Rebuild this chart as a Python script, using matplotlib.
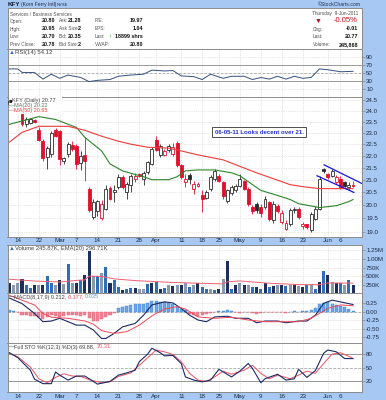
import matplotlib
matplotlib.use("Agg")
import matplotlib.pyplot as plt
import numpy as np
import pandas as pd
from matplotlib.ticker import NullLocator
from matplotlib.patches import Rectangle

plt.rcParams['font.family'] = ['Liberation Sans', 'DejaVu Sans']

# ---- data ---------------------------------------------------------------
days = pd.bdate_range('2011-02-10', '2011-06-09')
days = days.drop(pd.to_datetime(['2011-02-21', '2011-04-22', '2011-05-30']))

tick_days = ['2011-02-14', '2011-02-22', '2011-03-01', '2011-03-07', '2011-03-14',
             '2011-03-21', '2011-03-28', '2011-04-01', '2011-04-11', '2011-04-18',
             '2011-04-25', '2011-05-02', '2011-05-09', '2011-05-16', '2011-05-23',
             '2011-06-01', '2011-06-06']
tick_text = ['14', '22', 'Mar', '7', '14', '21', '28', 'Apr', '11', '18', '25',
             'May', '9', '16', '23', 'Jun', '6']

opens = [24.30, 24.45, 24.40, 23.87, 23.38, 23.45, 23.58, 23.13, 22.64, 21.96,
         22.08, 23.13, 23.06, 21.77, 22.08, 22.46, 22.42, 21.70, 22.04, 20.65,
         19.56, 19.79, 19.52, 19.87, 20.68, 20.50, 20.72, 21.12, 20.53, 20.80,
         21.02, 21.25, 21.05, 21.32, 21.66, 22.67, 22.04, 22.05, 22.25, 22.08,
         22.57, 21.62, 20.92, 21.20, 20.65, 20.76, 20.38, 20.30, 20.65, 21.05,
         21.17, 20.93, 20.18, 20.46, 20.58, 20.77, 20.97, 20.65, 19.94, 20.06,
         19.94, 19.94, 20.14, 19.42, 19.98, 19.38, 19.12, 19.27, 19.80, 19.87,
         19.23, 19.27, 19.05, 19.49, 19.87, 21.45, 21.25, 21.17, 20.90, 21.05,
         20.93, 20.70, 20.80]
highs = [24.55, 24.60, 24.50, 23.96, 23.73, 23.65, 23.62, 23.24, 22.71, 22.44,
         23.10, 23.20, 23.12, 21.96, 22.58, 22.63, 22.50, 22.21, 22.80, 20.70,
         20.26, 20.22, 20.22, 20.81, 20.75, 20.81, 21.25, 21.20, 20.93, 21.25,
         21.30, 21.29, 21.37, 21.80, 22.40, 22.85, 22.50, 22.30, 22.50, 22.54,
         22.63, 21.66, 21.25, 21.28, 20.95, 20.90, 20.58, 20.60, 21.20, 21.45,
         21.25, 20.97, 20.65, 20.80, 20.85, 21.25, 21.00, 20.70, 20.00, 20.14,
         20.05, 20.35, 20.18, 20.18, 20.05, 19.80, 19.42, 19.90, 19.95, 19.94,
         19.38, 19.30, 19.75, 19.98, 21.15, 21.50, 21.30, 21.45, 21.20, 21.15,
         20.97, 20.93, 20.95]
lows = [24.20, 24.30, 24.05, 23.29, 23.24, 23.40, 23.45, 22.63, 21.79, 21.45,
        21.96, 22.80, 21.62, 21.66, 21.96, 22.21, 21.45, 21.40, 20.95, 19.75,
        19.49, 19.60, 19.42, 19.80, 20.20, 20.14, 20.62, 20.65, 20.26, 20.50,
        20.90, 21.10, 20.81, 21.25, 21.60, 22.20, 21.96, 21.98, 22.15, 22.00,
        21.55, 21.05, 20.70, 20.85, 20.45, 20.70, 19.75, 20.25, 20.55, 20.95,
        20.90, 20.26, 20.10, 20.40, 20.50, 20.70, 20.58, 19.98, 19.68, 19.70,
        19.56, 19.85, 19.40, 19.34, 19.70, 19.30, 19.05, 19.20, 19.72, 19.49,
        19.12, 19.10, 18.98, 19.42, 19.80, 21.30, 21.05, 21.10, 20.85, 20.65,
        20.70, 20.60, 20.70]
closes = [24.45, 24.40, 24.10, 23.38, 23.60, 23.62, 23.50, 22.68, 21.90, 22.33,
          23.00, 22.87, 21.87, 21.90, 22.50, 22.29, 21.66, 22.00, 21.77, 19.83,
          20.14, 20.18, 20.05, 20.65, 20.26, 20.58, 21.12, 20.70, 20.85, 21.18,
          21.17, 21.15, 21.30, 21.73, 22.29, 22.27, 22.42, 22.21, 22.44, 22.36,
          21.62, 21.13, 21.02, 21.05, 20.85, 20.83, 20.26, 20.52, 21.12, 21.37,
          20.97, 20.34, 20.58, 20.73, 20.77, 21.05, 20.65, 20.06, 19.76, 19.80,
          19.72, 20.26, 19.49, 20.06, 19.76, 19.72, 19.34, 19.80, 19.87, 19.56,
          19.30, 19.19, 19.68, 19.87, 21.05, 21.37, 21.13, 21.37, 21.10, 20.73,
          20.77, 20.78, 20.77]

ma20_idx = [0, 7, 11, 16, 18, 22, 24, 27, 32, 34, 38, 40, 42, 45, 49, 53, 55, 57,
            60, 64, 67, 69, 74, 78, 81, 82]
ma20_val = [23.38, 23.73, 23.60, 23.24, 22.80, 22.21, 21.66, 21.37, 21.13, 21.01,
            21.01, 21.13, 21.37, 21.41, 21.41, 21.29, 21.17, 20.93, 20.58, 20.38,
            20.22, 20.06, 19.91, 19.98, 20.14, 20.22]
ma50_idx = [0, 3, 7, 14, 18, 22, 26, 29, 33, 38, 41, 45, 51, 59, 67, 70, 74, 78, 82]
ma50_val = [22.59, 23.02, 23.29, 23.29, 23.11, 22.85, 22.63, 22.50, 22.37, 22.33,
            22.21, 22.04, 21.83, 21.29, 20.81, 20.73, 20.65, 20.65, 20.65]

chan_up_x = [75.1, 84.2]
chan_up_y = [21.62, 20.85]
chan_lo_x = [73.4, 82.2]
chan_lo_y = [21.17, 20.50]

volume_k = [310, 250, 310, 408, 229, 150, 229, 229, 229, 497,
            310, 250, 399, 280, 845, 310, 310, 378, 527, 1240,
            497, 497, 577, 774, 300, 378, 180, 100, 130,
            160, 160, 130, 130, 260, 290, 330, 130, 160, 230,
            200, 230, 230, 290, 180, 230, 310, 180, 130, 130,
            100, 130, 430, 945, 130, 230, 310, 230, 230, 180,
            180, 130, 290, 180, 200, 230, 230, 200, 230, 230,
            200, 180, 230, 260, 130, 330, 645, 527, 330, 300,
            290, 230, 400, 246]
volume_shade = list('nggnbbngnbbgngbgnbnngbgbnbbnb'
                    'bnggbnbnbgngngbgnbbgbngnbngngbnbnbngnbgngnbgbnbngnbgbn')
vma_idx = [0, 6, 12, 17, 18, 19, 22, 25, 30, 38, 46, 51, 52, 55, 61, 69, 74, 76, 82]
vma_k = [410, 357, 330, 385, 390, 500, 490, 420, 370, 320, 290, 275, 335, 360,
         300, 252, 250, 300, 297]

rsi_idx = [0, 2, 3, 6, 8, 10, 12, 14, 17, 19, 21, 24, 26, 29, 32, 34, 37, 39, 41,
           44, 46, 48, 51, 53, 56, 58, 60, 62, 64, 66, 68, 70, 72, 74, 76, 79, 82]
rsi_val = [60, 60, 51.5, 51, 35, 47, 37, 45, 39, 29, 32, 34, 42, 45, 47, 57, 55, 56,
           43, 41, 34, 47, 37, 42, 42, 34, 39, 35, 42, 35, 42, 37, 39, 60, 58, 53, 54.12]

macd_idx = [0, 3, 6, 8, 10, 12, 14, 16, 18, 20, 22, 23, 25, 27, 30, 32, 34, 37, 39,
            41, 43, 45, 47, 49, 52, 54, 57, 59, 61, 64, 66, 69, 71, 73, 75, 77, 79, 82]
macd_val = [0.40, 0.24, -0.05, -0.29, -0.27, -0.19, -0.29, -0.39, -0.39, -0.53,
            -0.78, -0.78, -0.63, -0.44, -0.34, -0.10, 0.20, 0.29, 0.26, 0.10, -0.10,
            -0.24, -0.29, -0.15, -0.13, -0.19, -0.19, -0.32, -0.27, -0.27, -0.32,
            -0.27, -0.27, -0.10, 0.245, 0.34, 0.29, 0.212]
sig_idx = [0, 3, 6, 8, 10, 14, 18, 20, 22, 25, 28, 31, 34, 37, 40, 42, 45, 49, 53,
           57, 61, 65, 69, 72, 76, 79, 82]
sig_val = [0.48, 0.34, 0.20, -0.05, -0.16, -0.19, -0.27, -0.36, -0.55, -0.63,
           -0.58, -0.39, -0.12, 0.08, 0.15, 0.08, -0.15, -0.19, -0.16, -0.24,
           -0.29, -0.29, -0.29, -0.19, 0.10, 0.20, 0.177]
hist_val = [0.05, 0.01, -0.02, -0.10, -0.10, -0.13, -0.12, -0.16, -0.22, -0.16,
            -0.10, -0.12, -0.16, -0.12, -0.10, -0.10, -0.10, -0.13, -0.10, -0.19,
            -0.26, -0.26, -0.22, -0.16, -0.10, -0.03, 0.10, 0.13, 0.16, 0.19,
            0.22, 0.22, 0.22, 0.26, 0.32, 0.32, 0.29, 0.29, 0.26, 0.22,
            0.15, 0.07, 0.05, -0.06, -0.10, -0.13, -0.10, -0.06, -0.04, -0.02,
            0.02, 0.02, 0.04, 0.02, -0.02, -0.04, -0.02, -0.02, -0.04, -0.06,
            -0.04, -0.02, -0.01, -0.02, -0.01, -0.02, -0.04, -0.01, 0.01, -0.01,
            0.01, 0.02, 0.04, 0.10, 0.22, 0.26, 0.29, 0.22, 0.19, 0.16,
            0.13, 0.07, 0.035]

stok_idx = [0, 2, 5, 6, 8, 10, 11, 12, 14, 16, 18, 21, 24, 26, 28, 30, 31, 33, 34,
            36, 37, 39, 41, 42, 44, 46, 48, 50, 53, 55, 57, 58, 60, 61, 64, 66, 68,
            69, 71, 73, 75, 76, 78, 80, 82]
stok_val = [83, 72, 44, 24, 14, 14, 40, 33, 22, 31, 31, 13, 19, 33, 38, 44, 63, 80,
            93, 83, 76, 77, 59, 29, 22, 18, 22, 46, 29, 42, 59, 48, 16, 25, 35, 22,
            25, 46, 28, 43, 82, 89, 85, 70, 69.88]
stod_idx = [0, 2, 5, 7, 9, 11, 13, 15, 17, 19, 22, 24, 26, 29, 31, 33, 35, 37, 39,
            41, 43, 45, 47, 49, 51, 53, 56, 58, 60, 62, 64, 67, 69, 71, 73, 75, 77,
            79, 81, 82]
stod_val = [81, 74, 51, 25, 16, 28, 36, 31, 30, 23, 16, 18, 30, 38, 55, 72, 89, 85,
            79, 63, 37, 22, 19, 29, 42, 35, 44, 55, 37, 25, 33, 25, 33, 42, 37, 59,
            80, 83, 75, 70.31]

hdr_labels = [['Open:', 'High:', 'Low:', 'Prev Close:'],
              ['Ask:', 'Ask Size:', 'Bid:', 'Bid Size:'],
              ['P/E:', 'EPS:', 'Last:', 'VWAP:'],
              ['', 'Chg:', 'Last:', 'Volume:']]
hdr_values = [['20.80', '20.95', '20.70', '20.78'],
              ['21.28', '2', '20.35', '2'],
              ['19.97', '1.04', '18899 shrs', '20.80'],
              ['-0.05%', '-0.01', '20.77', '245,868']]

# ---- layout -------------------------------------------------------------
W, H = 386, 400
X0, X1 = 7.5, 361.7
XL = (-0.46, 84.07)
BG = '#a6c8f2'
TXT = '#1c2c48'
GRID = '#cfcfcf'
RED = '#e0102c'
NAVY = '#1b2a66'
LBL = '#505050'

tick_pos = [days.get_loc(pd.Timestamp(d)) for d in tick_days]
x = np.arange(len(days))

fig = plt.figure(figsize=(W / 100, H / 100), dpi=100)
fig.patch.set_facecolor(BG)


def panel(y0, y1):
    ax = fig.add_axes([X0 / W, 1 - y1 / H, (X1 - X0) / W, (y1 - y0) / H])
    ax.set_facecolor('white')
    for s in ax.spines.values():
        s.set_color('#8c8c8c')
        s.set_linewidth(0.7)
    return ax


def dress(ax, ticks, labels, ylim, dates=False, pad=1.0):
    ax.set_xlim(*XL)
    ax.set_ylim(*ylim)
    ax.set_yticks(ticks, labels)
    ax.yaxis.set_minor_locator(NullLocator())
    ax.yaxis.tick_right()
    ax.tick_params(axis='y', labelsize=4.4, length=2, width=0.5, pad=1.2,
                   color='#888888', labelcolor=TXT)
    ax.set_xticks(tick_pos, tick_text if dates else [])
    ax.tick_params(axis='x', length=0, labelsize=4.5, pad=pad, labelcolor=TXT)
    ax.grid(True, color=GRID, lw=0.5, ls=(0, (1, 1.5)))
    ax.set_axisbelow(True)


def ftext(px, py, s, **kw):
    kw.setdefault('va', 'center')
    kw.setdefault('fontsize', 3.4)
    return fig.text(px / W, 1 - py / H, s, **kw)


def legend(ax, px, py, parts, size=4.0):
    bb = ax.get_position()
    yf = (1 - py / H - bb.y0) / bb.height
    t = ax.text((px - X0) / (X1 - X0), yf, parts[0][0], transform=ax.transAxes,
                fontsize=size, color=parts[0][1], va='center', ha='left', zorder=6)
    prev = t
    for s, col in parts[1:]:
        prev = ax.annotate(s, xy=(1, 0), xycoords=prev, va='bottom', ha='left',
                           fontsize=size, color=col, annotation_clip=False, zorder=6)
    return t


# ---- title + header box -------------------------------------------------
ftext(8, 4.5, 'KFY', fontsize=4.6, fontweight='bold', color='#101830')
ftext(21, 4.5, '(Korn Ferry Intl)', fontsize=3.6, color='#202840')
ftext(57, 4.5, 'NYSE', fontsize=3.0, color='#202840')
ftext(361, 4.5, '\u00a9StockCharts.com', ha='right', fontsize=3.7, color='#203050')

hdr = panel(8.3, 48.5)
hdr.set_xticks([])
hdr.set_yticks([])

ftext(10, 14, 'Services / Business Services', color=LBL)
ftext(358, 14, 'Thursday  9-Jun-2011', ha='right', color=LBL)
rows_y = [21, 29, 37, 44.5]
lbl_x = [10, 59, 95, 313]
val_x = [55, 81, 143, 358]
for c in range(4):
    for r in range(4):
        if hdr_labels[c][r]:
            ftext(lbl_x[c], rows_y[r], hdr_labels[c][r], color=LBL)
        if c == 3 and r == 0:
            ftext(val_x[c], rows_y[r], hdr_values[c][r], ha='right', fontsize=5.5,
                  color='#c0101c')
        else:
            ftext(val_x[c], rows_y[r], hdr_values[c][r], ha='right',
                  fontweight='bold', fontsize=3.9, color='#101010')
ftext(318, 21, '\u25bc', ha='center', fontsize=5, color='#b01020')
ftext(110, 37, '\u2191', ha='center', fontsize=4.5, fontweight='bold',
      color='#20a020')

# ---- RSI ---------------------------------------------------------------
rsi = panel(49.3, 96.7)
dress(rsi, [10, 30, 50, 70, 90], ['10', '30', '50', '70', '90'], (-8, 108))
rsi.axhline(70, color='#999999', lw=0.7)
rsi.axhline(30, color='#999999', lw=0.7)
rsi.axhline(50, color='#aaaaaa', lw=0.6, ls=(0, (3, 2)))
rsi.plot(rsi_idx, rsi_val, color='#34507e', lw=0.7)
legend(rsi, 9, 52.5, [('\u25b2', '#3a6ad0'), ('RSI(14) 54.12', '#404040')], 4.3)

# ---- price -------------------------------------------------------------
pr = panel(96.7, 237)
pr.set_yscale('log')
pticks = [19.0, 19.5, 20.0, 20.5, 21.0, 21.5, 22.0, 22.5, 23.0, 23.5, 24.0, 24.5]
dress(pr, pticks, ['%.1f' % v for v in pticks], (18.81, 24.66), dates=True, pad=0.6)

o = np.array(opens)
c = np.array(closes)
prev_c = np.concatenate([[o[0]], c[:-1]])
edge = np.where(c < prev_c, RED, '#2a2a2a')
face = np.where(c >= o, 'white', edge)
body_lo = np.minimum(o, c)
body_h = np.maximum(np.abs(c - o), 0.02)
pr.vlines(x, lows, highs, colors=edge, lw=0.6, zorder=2)
pr.bar(x, body_h, bottom=body_lo, width=0.7, color=face, edgecolor=edge,
       linewidth=0.6, zorder=3)
pr.plot(ma20_idx, ma20_val, color='#2c862c', lw=0.8, zorder=4)
pr.plot(ma50_idx, ma50_val, color='#f03a3a', lw=0.8, zorder=4)
pr.plot(chan_up_x, chan_up_y, color='#1515e0', lw=0.9, zorder=5)
pr.plot(chan_lo_x, chan_lo_y, color='#1515e0', lw=0.9, zorder=5)

pr.add_patch(Rectangle((0.003, 0.88), 0.15, 0.117, transform=pr.transAxes,
                       facecolor='white', edgecolor='none', zorder=5))
legend(pr, 9, 100.5, [('\u25a0', '#202020'), ('KFY (Daily) 20.77', '#404040')])
legend(pr, 9, 105.5, [('\u2014', '#2c862c'), ('MA(20) 20.22', '#607060')])
legend(pr, 9, 110.5, [('\u2014', '#f03a3a'), ('MA(50) 20.65', '#f03a3a')])

pr.text(0.585, 0.748, '06-05-11 Looks decent over 21.', transform=pr.transAxes,
        fontsize=4.3, fontweight='bold', color='#2030d0', va='center', ha='left',
        zorder=6, bbox=dict(boxstyle='square,pad=0.45', fc='white', ec='#333333',
                            lw=0.6))

# ---- volume ------------------------------------------------------------
vo = panel(244.5, 293.3)
dress(vo, [250e3, 500e3, 750e3, 1e6, 1.25e6],
      ['250K', '500K', '750K', '1.00M', '1.25M'], (0, 1.42e6))
shade = {'n': '#1e2f5e', 'b': '#2f6fb8', 'g': '#8a98b0'}
vo.bar(x, np.array(volume_k) * 1e3, width=0.72,
       color=[shade[s] for s in volume_shade], linewidth=0, zorder=2)
vo.plot(vma_idx, np.array(vma_k) * 1e3, color='#f06070', lw=0.7, zorder=3)
legend(vo, 9, 248.5, [('\u25b2', '#3a6ad0'),
                      ('Volume 245.87K, EMA(20) 296.71K', '#404040')], 4.2)

# ---- MACD --------------------------------------------------------------
md = panel(293.3, 343.3)
dress(md, [-0.75, -0.5, -0.25, 0.0, 0.25],
      ['-0.75', '-0.50', '-0.25', '0.00', '0.25'], (-0.92, 0.54))
md.axhline(0, color='#aaaaaa', lw=0.6, ls=(0, (3, 2)))
hv = np.array(hist_val)
md.bar(x, hv, width=0.72, color=np.where(hv >= 0, '#6aa6ea', '#f08494'),
       edgecolor=np.where(hv >= 0, '#3f7fcc', '#e05a70'), linewidth=0.3, zorder=2)
md.plot(macd_idx, macd_val, color=NAVY, lw=0.8, zorder=3)
md.plot(sig_idx, sig_val, color='#f04858', lw=0.7, zorder=3)
legend(md, 9, 297, [('\u2014', NAVY), ('MACD(8,17,9) 0.212, ', '#404040'),
                    ('0.177, ', '#f04858'), ('0.035', '#5a9ae0')])

# ---- full stochastics ----------------------------------------------------
st = panel(343.3, 392)
dress(st, [20, 50, 80], ['20', '50', '80'], (-4.6, 104), dates=True, pad=1.2)
st.axhline(80, color='#999999', lw=0.7)
st.axhline(20, color='#999999', lw=0.7)
st.axhline(50, color='#aaaaaa', lw=0.6, ls=(0, (3, 2)))
st.plot(stod_idx, stod_val, color='#f05060', lw=0.7, zorder=3)
st.plot(stok_idx, stok_val, color=NAVY, lw=0.8, zorder=3)
legend(st, 9, 347, [('\u2014', NAVY), ('Full STO %K(12,3) %D(3) 69.88, ', '#404040'),
                    ('70.31', '#f05060')])

fig.savefig('out.png', dpi=100, facecolor=BG)
